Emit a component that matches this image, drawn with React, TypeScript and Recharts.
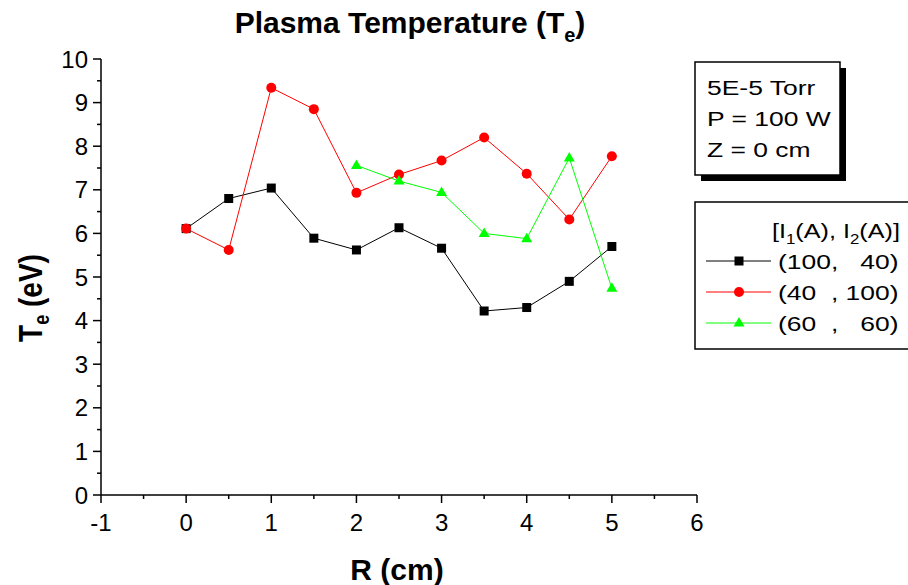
import React from 'react';
import { LineChart, Line, XAxis, YAxis } from 'recharts';

const rValues = [0, 0.5, 1, 1.5, 2, 2.5, 3, 3.5, 4, 4.5, 5];
const te100_40 = [6.11, 6.8, 7.04, 5.89, 5.62, 6.13, 5.66, 4.22, 4.3, 4.9, 5.7];
const te40_100 = [6.11, 5.62, 9.34, 8.85, 6.93, 7.35, 7.67, 8.2, 7.37, 6.32, 7.77];
const rGreen = [2, 2.5, 3, 3.5, 4, 4.5, 5];
const te60_60 = [7.56, 7.2, 6.94, 6.0, 5.88, 7.73, 4.74];

const xTicks = [-1, -0.5, 0, 0.5, 1, 1.5, 2, 2.5, 3, 3.5, 4, 4.5, 5, 5.5, 6];
const yTicks = [0, 0.5, 1, 1.5, 2, 2.5, 3, 3.5, 4, 4.5, 5, 5.5, 6, 6.5, 7, 7.5, 8, 8.5, 9, 9.5, 10];

const seriesNames = ['(100,\u00A0\u00A0 40)', '(40\u00A0 , 100)', '(60\u00A0 ,\u00A0\u00A0 60)'];
const seriesColors = ['#000000', '#ff0000', '#00ff00'];
const infoLines = ['5E-5 Torr', 'P = 100 W', 'Z = 0 cm'];

const dataBlack = rValues.map((r, i) => ({ r, te: te100_40[i] }));
const dataRed = rValues.map((r, i) => ({ r, te: te40_100[i] }));
const dataGreen = rGreen.map((r, i) => ({ r, te: te60_60[i] }));

const FONT = '"Liberation Sans", Arial, sans-serif';
const SX = 1.26;

const Square = (p: any) => {
  const { cx, cy, fill, index } = p;
  if (cx == null || cy == null) return <g key={index} />;
  return <rect key={index} x={cx - 4.5} y={cy - 4.5} width={9} height={9} fill={fill} />;
};
const Circle = (p: any) => {
  const { cx, cy, fill, index } = p;
  if (cx == null || cy == null) return <g key={index} />;
  return <circle key={index} cx={cx} cy={cy} r={5} fill={fill} />;
};
const Tri = (p: any) => {
  const { cx, cy, fill, index } = p;
  if (cx == null || cy == null) return <g key={index} />;
  return <path key={index} d={`M${cx},${cy - 6} L${cx + 5.5},${cy + 3.5} L${cx - 5.5},${cy + 3.5} Z`} fill={fill} />;
};

const YTick = (props: any) => {
  const { x, y, payload } = props;
  const v = payload.value;
  const major = Number.isInteger(v);
  return (
    <g>
      <line x1={x - (major ? 8 : 4)} x2={x} y1={y} y2={y} stroke="#000" strokeWidth={1.5} />
      {major && (
        <text x={x - 13} y={y + 8.5} textAnchor="end" fontSize={24} fontFamily={FONT} fill="#000">
          {v}
        </text>
      )}
    </g>
  );
};

const XTick = (props: any) => {
  const { x, y, payload } = props;
  const v = payload.value;
  const major = Number.isInteger(v);
  return (
    <g>
      <line x1={x} x2={x} y1={y} y2={y + (major ? 8 : 4)} stroke="#000" strokeWidth={1.5} />
      {major && (
        <text x={x} y={y + 36} textAnchor="middle" fontSize={24} fontFamily={FONT} fill="#000">
          {v}
        </text>
      )}
    </g>
  );
};

const SText = ({ x, y, children, size = 21, sx = SX }: any) => (
  <text transform={`translate(${x},${y}) scale(${sx},1)`} x={0} y={0} fontSize={size} fontFamily={FONT} fill="#000">
    {children}
  </text>
);

export default function App() {
  return (
    <div style={{ position: 'absolute', left: 0, top: 0, width: 908, height: 585, background: '#fff' }}>
      <LineChart width={908} height={585} margin={{ top: 59, right: 211, bottom: 30, left: 41 }}>
        <XAxis
          dataKey="r"
          type="number"
          domain={[-1, 6]}
          ticks={xTicks}
          interval={0}
          allowDuplicatedCategory={false}
          height={60}
          tickSize={0}
          tickMargin={0}
          tickLine={false}
          tick={<XTick />}
          axisLine={{ stroke: '#000', strokeWidth: 1.5 }}
        />
        <YAxis
          type="number"
          domain={[0, 10]}
          ticks={yTicks}
          interval={0}
          width={60}
          tickSize={0}
          tickMargin={0}
          tickLine={false}
          tick={<YTick />}
          axisLine={{ stroke: '#000', strokeWidth: 1.5 }}
        />
        <Line data={dataBlack} dataKey="te" type="linear" stroke={seriesColors[0]} strokeWidth={1} fill={seriesColors[0]} dot={(p: any) => <Square {...p} fill={seriesColors[0]} />} isAnimationActive={false} />
        <Line data={dataRed} dataKey="te" type="linear" stroke={seriesColors[1]} strokeWidth={1} fill={seriesColors[1]} dot={(p: any) => <Circle {...p} fill={seriesColors[1]} />} isAnimationActive={false} />
        <Line data={dataGreen} dataKey="te" type="linear" stroke={seriesColors[2]} strokeWidth={1} fill={seriesColors[2]} dot={(p: any) => <Tri {...p} fill={seriesColors[2]} />} isAnimationActive={false} />
      </LineChart>
      <svg width={908} height={585} style={{ position: 'absolute', left: 0, top: 0, pointerEvents: 'none' }}>
        <text x={410} y={33} textAnchor="middle" fontSize={30} fontWeight="bold" fontFamily={FONT} fill="#000">
          Plasma Temperature (T<tspan fontSize={20} dy={9}>e</tspan><tspan dy={-9}>)</tspan>
        </text>
        <text transform="translate(42,298) scale(1.2,1) rotate(-90)" textAnchor="middle" fontSize={28} fontWeight="bold" fontFamily={FONT} fill="#000">
          T<tspan fontSize={18} dy={6}>e</tspan><tspan dy={-6}> (eV)</tspan>
        </text>
        <text x={397} y={580} textAnchor="middle" fontSize={30} fontWeight="bold" fontFamily={FONT} fill="#000">
          R (cm)
        </text>
        <rect x={701} y={68} width={145} height={113} fill="#000" />
        <rect x={695} y={62} width={145} height={113} fill="#fff" stroke="#000" strokeWidth={1.5} />
        {infoLines.map((t, i) => (
          <SText key={i} x={707} y={95 + i * 31}>{t}</SText>
        ))}
        <rect x={695} y={202} width={240} height={147} fill="#fff" stroke="#000" strokeWidth={1.5} />
        <SText x={772} y={238} sx={1.2}>
          [I<tspan fontSize={14} dy={6}>1</tspan><tspan dy={-6}>(A), I</tspan><tspan fontSize={14} dy={6}>2</tspan><tspan dy={-6}>(A)]</tspan>
        </SText>
        {[261, 292, 323].map((y, i) => (
          <g key={i}>
            <line x1={706} x2={771} y1={y} y2={y} stroke={seriesColors[i]} strokeWidth={1} />
            {i === 0 && <rect x={734.5} y={y - 4.5} width={9} height={9} fill={seriesColors[0]} />}
            {i === 1 && <circle cx={739} cy={y} r={5} fill={seriesColors[1]} />}
            {i === 2 && <path d={`M739,${y - 6} L744.5,${y + 3.5} L733.5,${y + 3.5} Z`} fill={seriesColors[2]} />}
            <SText x={778} y={y + 7.5}>{seriesNames[i]}</SText>
          </g>
        ))}
      </svg>
    </div>
  );
}
